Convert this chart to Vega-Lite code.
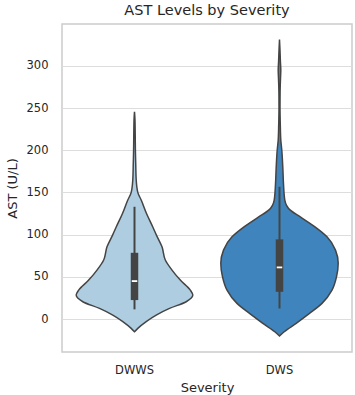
{
  "$schema": "https://vega.github.io/schema/vega-lite/v6.json",
  "autosize": {"type": "none"},
  "width": 290,
  "height": 328,
  "padding": {"left": 62, "top": 24, "right": 3, "bottom": 43},
  "title": {"text": "AST Levels by Severity", "offset": 6},
  "datasets": {
    "dens": [
      {"sev": "DWWS", "ast": -15, "w": 0},
      {"sev": "DWWS", "ast": -11, "w": 6.6},
      {"sev": "DWWS", "ast": -3, "w": 23.4},
      {"sev": "DWWS", "ast": 4.7, "w": 43.4},
      {"sev": "DWWS", "ast": 12.6, "w": 70},
      {"sev": "DWWS", "ast": 20.5, "w": 103.4},
      {"sev": "DWWS", "ast": 28.4, "w": 116.6},
      {"sev": "DWWS", "ast": 34.3, "w": 111.6},
      {"sev": "DWWS", "ast": 46.2, "w": 91.6},
      {"sev": "DWWS", "ast": 58, "w": 75},
      {"sev": "DWWS", "ast": 70, "w": 61.6},
      {"sev": "DWWS", "ast": 85.6, "w": 55},
      {"sev": "DWWS", "ast": 100, "w": 43.4},
      {"sev": "DWWS", "ast": 109, "w": 36.6},
      {"sev": "DWWS", "ast": 125, "w": 24},
      {"sev": "DWWS", "ast": 141, "w": 13.4},
      {"sev": "DWWS", "ast": 150, "w": 6.6},
      {"sev": "DWWS", "ast": 165, "w": 3.4},
      {"sev": "DWWS", "ast": 185, "w": 2.4},
      {"sev": "DWWS", "ast": 200, "w": 1.8},
      {"sev": "DWWS", "ast": 220, "w": 1.4},
      {"sev": "DWWS", "ast": 235, "w": 1},
      {"sev": "DWWS", "ast": 245.5, "w": 0},
      {"sev": "DWS", "ast": -20, "w": 0},
      {"sev": "DWS", "ast": -15, "w": 9.4},
      {"sev": "DWS", "ast": -5, "w": 33.4},
      {"sev": "DWS", "ast": 6.7, "w": 60},
      {"sev": "DWS", "ast": 18.6, "w": 85},
      {"sev": "DWS", "ast": 34.3, "w": 105},
      {"sev": "DWS", "ast": 50, "w": 114},
      {"sev": "DWS", "ast": 66, "w": 117.4},
      {"sev": "DWS", "ast": 81.7, "w": 112},
      {"sev": "DWS", "ast": 97.5, "w": 95},
      {"sev": "DWS", "ast": 109, "w": 71.6},
      {"sev": "DWS", "ast": 121, "w": 41.6},
      {"sev": "DWS", "ast": 129, "w": 21.6},
      {"sev": "DWS", "ast": 141, "w": 10.6},
      {"sev": "DWS", "ast": 160, "w": 8},
      {"sev": "DWS", "ast": 180, "w": 6.6},
      {"sev": "DWS", "ast": 200, "w": 4.6},
      {"sev": "DWS", "ast": 212, "w": 2.6},
      {"sev": "DWS", "ast": 230, "w": 1.6},
      {"sev": "DWS", "ast": 250, "w": 1},
      {"sev": "DWS", "ast": 270, "w": 1.2},
      {"sev": "DWS", "ast": 285, "w": 2},
      {"sev": "DWS", "ast": 295, "w": 2.6},
      {"sev": "DWS", "ast": 305, "w": 1.8},
      {"sev": "DWS", "ast": 318, "w": 1},
      {"sev": "DWS", "ast": 331, "w": 0}
    ],
    "box": [
      {"sev": "DWWS", "lo": 11.5, "q1": 22.5, "med": 45, "q3": 78.5, "hi": 133},
      {"sev": "DWS", "lo": 12.6, "q1": 32.3, "med": 61.2, "q3": 94.4, "hi": 156.7}
    ]
  },
  "layer": [
    {
      "data": {"name": "dens"},
      "transform": [{"filter": "datum.sev == 'DWWS'"}],
      "mark": {"type": "area", "orient": "horizontal", "interpolate": "monotone", "fill": "#afcde1", "stroke": "#444444", "strokeWidth": 1.5, "fillOpacity": 1},
      "encoding": {
        "y": {"field": "ast", "type": "quantitative", "scale": {"domain": [-39, 349.5], "nice": false, "zero": false},
              "axis": {"title": "AST (U/L)", "values": [0, 50, 100, 150, 200, 250, 300], "grid": true, "gridColor": "#dddddd", "gridWidth": 1, "labelPadding": 14, "titlePadding": 7}},
        "x": {"field": "w", "type": "quantitative", "stack": "center", "scale": {"domain": [-14.2, 275.8], "nice": false, "zero": false}, "axis": null}
      }
    },
    {
      "data": {"name": "dens"},
      "transform": [{"filter": "datum.sev == 'DWS'"}],
      "mark": {"type": "area", "orient": "horizontal", "interpolate": "monotone", "fill": "#3f84bc", "stroke": "#444444", "strokeWidth": 1.5, "fillOpacity": 1},
      "encoding": {
        "y": {"field": "ast", "type": "quantitative"},
        "x": {"field": "w", "type": "quantitative", "stack": "center", "scale": {"domain": [-158.8, 131.2], "nice": false, "zero": false}, "axis": null}
      }
    },
    {
      "data": {"name": "box"},
      "mark": {"type": "rule", "color": "#444444", "strokeWidth": 2},
      "encoding": {
        "x": {"field": "sev", "type": "nominal", "sort": ["DWWS", "DWS"], "scale": {"domain": ["DWWS", "DWS"], "paddingInner": 0, "paddingOuter": 0},
              "axis": {"title": "Severity", "labelAngle": 0, "labelPadding": 12, "titlePadding": 6, "grid": false}},
        "y": {"field": "lo", "type": "quantitative"},
        "y2": {"field": "hi"}
      }
    },
    {
      "data": {"name": "box"},
      "mark": {"type": "rule", "color": "#444444", "strokeWidth": 7.5},
      "encoding": {
        "x": {"field": "sev", "type": "nominal", "scale": {"domain": ["DWWS", "DWS"], "paddingInner": 0, "paddingOuter": 0}, "axis": null},
        "y": {"field": "q1", "type": "quantitative"},
        "y2": {"field": "q3"}
      }
    },
    {
      "data": {"name": "box"},
      "mark": {"type": "tick", "color": "white", "size": 5.5, "thickness": 1.8, "opacity": 1},
      "encoding": {
        "x": {"field": "sev", "type": "nominal", "scale": {"domain": ["DWWS", "DWS"], "paddingInner": 0, "paddingOuter": 0}, "axis": null},
        "y": {"field": "med", "type": "quantitative"}
      }
    }
  ],
  "resolve": {"scale": {"x": "independent"}, "axis": {"x": "independent"}},
  "config": {
    "font": "DejaVu Sans",
    "view": {"stroke": "#cccccc", "strokeWidth": 1.5},
    "axis": {"labelColor": "#262626", "titleColor": "#262626", "labelFontSize": 11.5, "titleFontSize": 13, "titleFontWeight": "normal", "domain": false, "ticks": false},
    "title": {"fontSize": 14.5, "fontWeight": "normal", "color": "#262626"}
  }
}
